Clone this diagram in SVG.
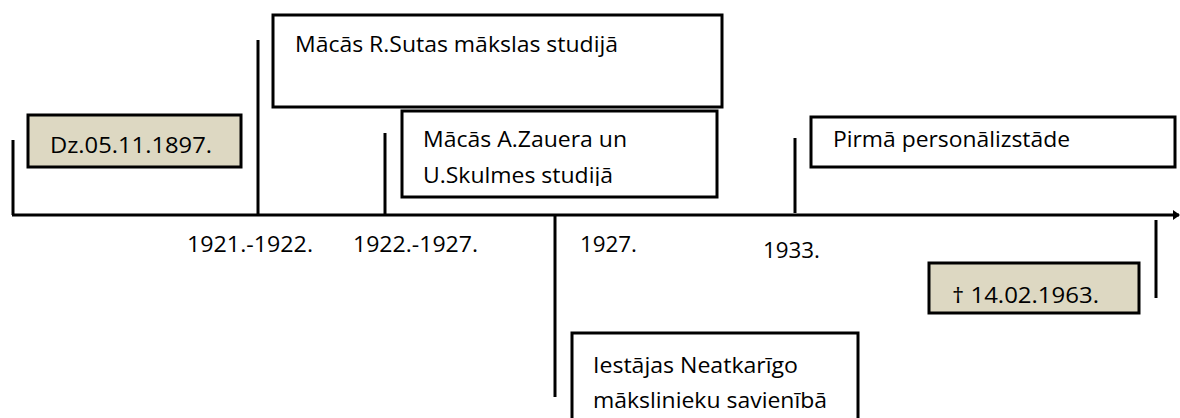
<svg xmlns="http://www.w3.org/2000/svg" width="1180" height="418" viewBox="0 0 1180 418">
<style>
.box{fill:#ffffff;stroke:#000;stroke-width:3}
.tan{fill:#ddd8c2;stroke:#000;stroke-width:3}
.ln{stroke:#000;stroke-width:3;fill:none}
text{font-family:"Open Sans","Liberation Sans",sans-serif;font-size:21.5px;fill:#000}
</style>
<defs>
<marker id="arr" markerWidth="7" markerHeight="10" refX="6" refY="5" orient="auto" markerUnits="userSpaceOnUse">
<path d="M0,0 L7,5 L0,10 Z" fill="#000"/>
</marker>
<clipPath id="clipZ"><rect x="400" y="110" width="318" height="76"/></clipPath>
</defs>
<rect width="1180" height="418" fill="#fff"/>
<g id="connectors">
<line class="ln" x1="12" y1="215" x2="1179" y2="215" marker-end="url(#arr)"/>
<line class="ln" x1="13" y1="140" x2="13" y2="215"/>
<line class="ln" x1="258" y1="40" x2="258" y2="215"/>
<line class="ln" x1="385" y1="133" x2="385" y2="215"/>
<line class="ln" x1="555" y1="215" x2="555" y2="397"/>
<line class="ln" x1="795" y1="138" x2="795" y2="213"/>
<line class="ln" x1="1156" y1="220" x2="1156" y2="298"/>
</g>
<g id="birth">
<rect class="tan" x="28" y="115" width="213" height="52"/>
<text x="50" y="153" textLength="162" lengthAdjust="spacingAndGlyphs">Dz.05.11.1897.</text>
</g>
<g id="sutas">
<rect class="box" x="273" y="15" width="449" height="92"/>
<text x="295" y="52" textLength="323" lengthAdjust="spacingAndGlyphs">Mācās R.Sutas mākslas studijā</text>
</g>
<g id="zauera">
<rect class="box" x="402" y="111" width="315" height="86"/>
<g clip-path="url(#clipZ)">
<text x="423" y="147" textLength="204" lengthAdjust="spacingAndGlyphs">Mācās A.Zauera un</text>
<text x="423" y="183" textLength="190" lengthAdjust="spacingAndGlyphs">U.Skulmes studijā</text>
</g>
</g>
<g id="neatkarigo">
<rect class="box" x="572" y="333" width="286" height="100"/>
<text x="593" y="373" textLength="205" lengthAdjust="spacingAndGlyphs">Iestājas Neatkarīgo</text>
<text x="593" y="408" textLength="234" lengthAdjust="spacingAndGlyphs">mākslinieku savienībā</text>
</g>
<g id="personal">
<rect class="box" x="811" y="117" width="364" height="50"/>
<text x="833" y="147" textLength="237" lengthAdjust="spacingAndGlyphs">Pirmā personālizstāde</text>
</g>
<g id="death">
<rect class="tan" x="929" y="263" width="210" height="50"/>
<text x="952" y="303" textLength="147" lengthAdjust="spacingAndGlyphs">† 14.02.1963.</text>
</g>
<g id="dates">
<text x="187" y="252" textLength="126" lengthAdjust="spacingAndGlyphs">1921.-1922.</text>
<text x="353" y="252" textLength="125" lengthAdjust="spacingAndGlyphs">1922.-1927.</text>
<text x="580" y="252" textLength="57" lengthAdjust="spacingAndGlyphs">1927.</text>
<text x="763" y="258" textLength="57" lengthAdjust="spacingAndGlyphs">1933.</text>
</g>
</svg>
